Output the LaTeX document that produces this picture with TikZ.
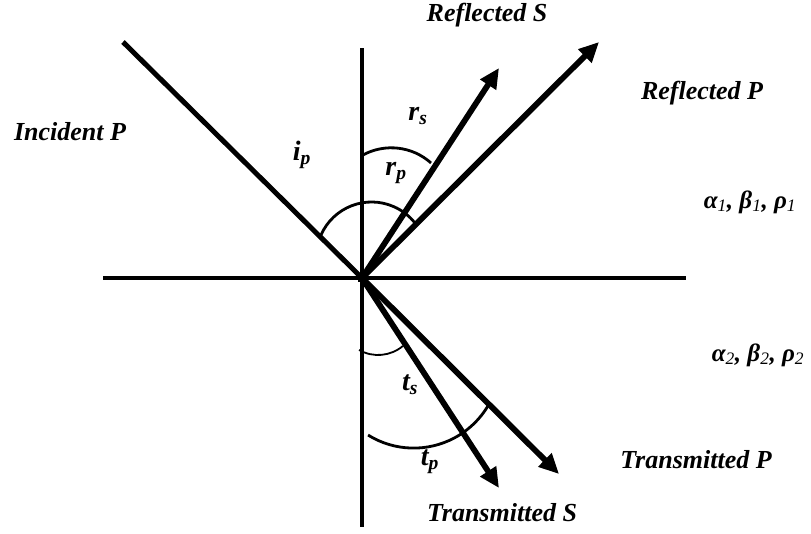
\documentclass[tikz,border=0pt]{standalone}
\usepackage{fontspec}
\setmainfont{Liberation Serif}
\usetikzlibrary{arrows.meta}
\begin{document}
\begin{tikzpicture}[x=1pt,y=-1pt,
  lbl/.style={font=\bfseries\itshape\fontsize{26}{30}\selectfont, inner sep=0pt},
  sym/.style={font=\bfseries\itshape\fontsize{28}{32}\selectfont, inner sep=0pt},
  greek/.style={font=\bfseries\itshape\fontsize{25}{30}\selectfont, inner sep=0pt},
  axis/.style={line width=3.4pt},
  ray/.style={line width=5pt},
  arrowray/.style={line width=5.8pt, -{Triangle[length=20pt,width=18pt]}},
  anglearc/.style={line width=2.8pt},
  thinarc/.style={line width=1.8pt}]
\useasboundingbox (0,0) rectangle (811,533);
% coordinates
\coordinate (O) at (362,278);
\coordinate (vtop) at (362,48);
\coordinate (vbot) at (362,527);
\coordinate (hleft) at (103,278);
\coordinate (hright) at (686,278);
\coordinate (inc) at (123,42);
\coordinate (rS) at (499,68);
\coordinate (rP) at (599,42);
\coordinate (tS) at (499,488);
\coordinate (tP) at (559,474);
% axes
\draw[axis] (vtop) -- (vbot);
\draw[axis] (hleft) -- (hright);
% rays
\draw[ray] (inc) -- (O);
\draw[arrowray] (O) -- (rS);
\draw[arrowray] (O) -- (rP);
\draw[arrowray] (O) -- (tS);
\draw[arrowray] (O) -- (tP);
\fill (O) ++(-4,-4) rectangle ++(8,8);
% angle arcs
\coordinate (c1) at (371.6,257.3);
\draw[anglearc] ([shift={(-156.2:55.3)}]c1) arc[start angle=-156.2, end angle=-38.3, radius=55.3];
\coordinate (c2) at (391.3,207.4);
\draw[anglearc] ([shift={(-118.4:59.6)}]c2) arc[start angle=-118.4, end angle=-48.2, radius=59.6];
\coordinate (c3) at (378.1,316.4);
\draw[thinarc] ([shift={(119.6:38.6)}]c3) arc[start angle=119.6, end angle=50, radius=38.6];
\coordinate (c4) at (413.7,361.7);
\draw[anglearc] ([shift={(121.9:86.4)}]c4) arc[start angle=121.9, end angle=27.8, radius=86.4];
% labels
\node[lbl] (lrs) at (487,15) {Reflected S};
\node[lbl] (lrp) at (702,93) {Reflected P};
\node[lbl] (lip) at (70,132) {Incident P};
\node[lbl] (ltp) at (696,460) {Transmitted P};
\node[lbl] (lts) at (502,513) {Transmitted S};
\node[greek] (m1) at (750,202) {α\textsubscript{\mdseries 1}, β\textsubscript{\mdseries 1}, ρ\textsubscript{\mdseries 1}};
\node[greek] (m2) at (758,355) {α\textsubscript{\mdseries 2}, β\textsubscript{\mdseries 2}, ρ\textsubscript{\mdseries 2}};
\node[sym] (sip) at (302,155) {i\textsubscript{p}};
\node[sym] (srs) at (418,116) {r\textsubscript{s}};
\node[sym] (srp) at (396,173) {r\textsubscript{p}};
\node[sym] (sts) at (410,385) {t\textsubscript{s}};
\node[sym] (stp) at (430,462) {t\textsubscript{p}};
\end{tikzpicture}
\end{document}
